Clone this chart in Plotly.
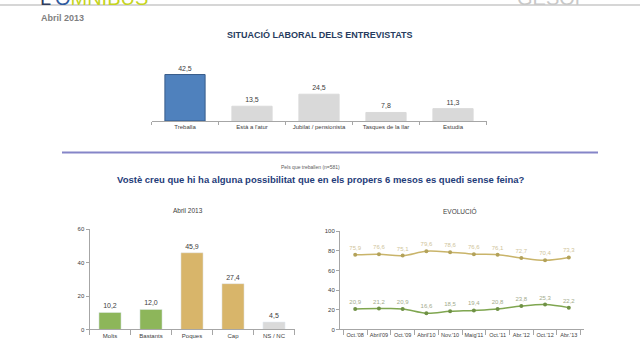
import plotly.graph_objects as go

# --- Data ---
sit_categories = ["Treballa", "Està a l'atur", "Jubilat / pensionista", "Tasques de la llar", "Estudia"]
sit_values = [42.5, 13.5, 24.5, 7.8, 11.3]

abril_categories = ["Molts", "Bastants", "Poques", "Cap", "NS / NC"]
abril_values = [10.2, 12.0, 45.9, 27.4, 4.5]

evo_labels = ["Oct.'08", "Abril'09", "Oct.'09", "Abril'10", "Nov.'10", "Maig'11", "Oct.'11", "Abr.'12", "Oct.'12", "Abr.'13"]
evo_poques_cap = [75.9, 76.6, 75.1, 79.6, 78.6, 76.6, 76.1, 72.7, 70.4, 73.3]
evo_molts_bastants = [20.9, 21.2, 20.9, 16.6, 18.5, 19.4, 20.8, 23.8, 25.3, 22.2]

W, H = 640, 360
def px(x): return x / W
def py(y): return 1 - y / H

FONT = "Liberation Sans, Arial, sans-serif"
GRAY = "#404040"

fig = go.Figure()

# Top chart
fig.add_trace(go.Bar(
    x=sit_categories, y=sit_values, xaxis="x", yaxis="y",
    marker=dict(color=["#4f81bd"] + ["#d9d9d9"] * 4,
                line=dict(color=["#385d8a"] + ["#d9d9d9"] * 4, width=1)),
    width=0.6, text=sit_values, texttemplate="%{y:.1f}", textposition="outside",
    textfont=dict(size=7, color=GRAY), outsidetextfont=dict(size=7, color=GRAY),
    cliponaxis=False, showlegend=False, hoverinfo="skip"))

# Bottom-left chart
fig.add_trace(go.Bar(
    x=abril_categories, y=abril_values, xaxis="x2", yaxis="y2",
    marker=dict(color=["#8db65a", "#8db65a", "#d8b56a", "#d8b56a", "#dadada"]),
    width=0.54, text=abril_values, texttemplate="%{y:.1f}", textposition="outside",
    textfont=dict(size=7, color=GRAY), outsidetextfont=dict(size=7, color=GRAY),
    cliponaxis=False, showlegend=False, hoverinfo="skip"))

# Bottom-right chart
fig.add_trace(go.Scatter(
    x=evo_labels, y=evo_poques_cap, xaxis="x3", yaxis="y3",
    mode="lines+markers+text", line=dict(color="#c9b46a", width=1.5, shape="spline"),
    marker=dict(size=4, color="#b3a25a"),
    text=evo_poques_cap, texttemplate="%{y:.1f}", textposition="top center",
    textfont=dict(size=6, color="#cfc49a"), cliponaxis=False, showlegend=False, hoverinfo="skip"))
fig.add_trace(go.Scatter(
    x=evo_labels, y=evo_molts_bastants, xaxis="x3", yaxis="y3",
    mode="lines+markers+text", line=dict(color="#7fa650", width=1.5, shape="spline"),
    marker=dict(size=4, color="#6f9145"),
    text=evo_molts_bastants, texttemplate="%{y:.1f}", textposition="top center",
    textfont=dict(size=6, color="#a3ab8c"), cliponaxis=False, showlegend=False, hoverinfo="skip"))

axis_common = dict(showgrid=False, zeroline=False, linecolor="#a6a6a6", linewidth=1,
                   tickfont=dict(size=6, color=GRAY), ticklen=3, tickcolor="#a6a6a6")

fig.update_layout(
    width=W, height=H, margin=dict(l=0, r=0, t=0, b=0),
    paper_bgcolor="white", plot_bgcolor="white",
    separators=",.", font=dict(family=FONT, color=GRAY),
    hovermode=False,
    xaxis=dict(domain=[px(151.5), px(486.5)], anchor="y", showline=True,
               ticks="outside", tickson="boundaries", **axis_common),
    yaxis=dict(domain=[py(120), py(64.4)], anchor="x", range=[0, 50], visible=False),
    xaxis2=dict(domain=[px(89.5), px(294.5)], anchor="y2", showline=True,
                ticks="outside", tickson="boundaries", **{**axis_common, "ticklen": 5}),
    yaxis2=dict(domain=[py(332), py(230)], anchor="x2", range=[0, 60], dtick=20,
                showline=True, ticks="outside", **axis_common),
    xaxis3=dict(domain=[px(340), px(584)], anchor="y3", showline=True, tickangle=0,
                ticks="outside", tickson="boundaries",
                **{**axis_common, "ticklen": 5, "tickfont": dict(size=5.5, color=GRAY)}),
    yaxis3=dict(domain=[py(332), py(232)], anchor="x3", range=[0, 100], dtick=20,
                showline=True, ticks="outside", **axis_common),
)

# Shapes: top gray line and blue separator
fig.add_shape(type="line", xref="paper", yref="paper", x0=0, x1=1, y0=py(2), y1=py(2),
              line=dict(color="#c8c8c8", width=1.5))
fig.add_shape(type="line", xref="paper", yref="paper", x0=px(62), x1=px(598), y0=py(152), y1=py(152),
              line=dict(color="#8585c8", width=2))

def ann(text, x, y, size, color, bold=False, xanchor="center", yanchor="middle", family=FONT):
    fig.add_annotation(text=f"<b>{text}</b>" if bold else text, x=px(x), y=py(y),
                       xref="paper", yref="paper", showarrow=False,
                       xanchor=xanchor, yanchor=yanchor,
                       font=dict(size=size, color=color, family=family))

# Header logos (partially cut at top, as in the slide)
fig.add_annotation(text="<span style='color:#2e3b5c'>L'</span><span style='color:#2e5aa0'>O</span><span style='color:#c5d41e'>MNIBUS</span>",
                   x=px(38), y=py(8.5), xref="paper", yref="paper", showarrow=False,
                   xanchor="left", yanchor="bottom", font=dict(size=20, family=FONT))
fig.add_annotation(text="GESOP", x=px(515), y=py(8.5), xref="paper", yref="paper", showarrow=False,
                   xanchor="left", yanchor="bottom", font=dict(size=20, color="#c8c8c8", family=FONT))

ann("Abril 2013", 39, 15, 9, "#7f7f7f", bold=True, xanchor="left")
ann("SITUACIÓ LABORAL DELS ENTREVISTATS", 320, 32, 9, "#263b5e", bold=True)
ann("Pels que treballen (n=581)", 310, 167, 5, "#606060")
ann("Vostè creu que hi ha alguna possibilitat que en els propers 6 mesos es quedi sense feina?", 321, 179, 9.5, "#1f3d7a", bold=True)
ann("Abril 2013", 188, 211, 6.5, GRAY)
ann("EVOLUCIÓ", 460, 212, 6.5, GRAY)

fig.write_html("out.html", config={"displayModeBar": False, "staticPlot": True},
               post_script="document.body.style.margin='0';document.body.style.overflow='hidden';")
